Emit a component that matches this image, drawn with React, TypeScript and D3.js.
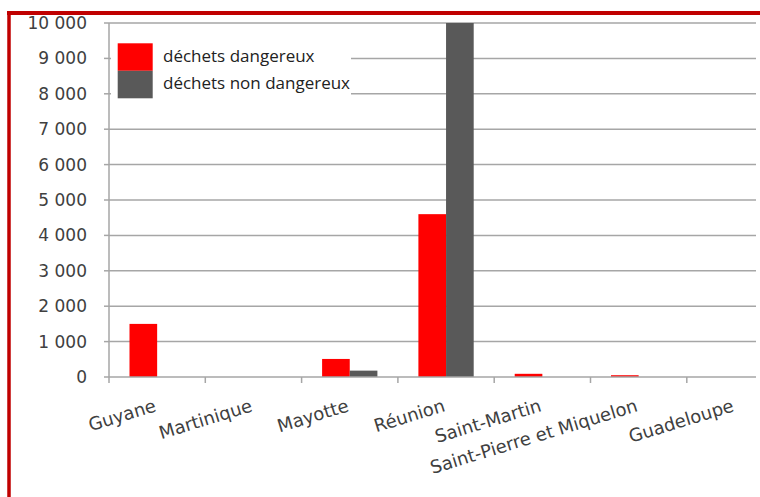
import React, { useEffect, useRef } from "react";
import * as d3 from "d3";

const categories = [
  "Guyane",
  "Martinique",
  "Mayotte",
  "Réunion",
  "Saint-Martin",
  "Saint-Pierre et Miquelon",
  "Guadeloupe",
];
const dangereux = [1500, 0, 510, 4600, 90, 50, 0];
const nonDangereux = [0, 0, 180, 10000, 0, 0, 0];
const seriesNames = ["déchets dangereux", "déchets non dangereux"];
const seriesColors = ["#ff0000", "#595959"];
const yTicks = [0, 1000, 2000, 3000, 4000, 5000, 6000, 7000, 8000, 9000, 10000];

const W = 760;
const H = 497;

function renderChart(svgEl: SVGSVGElement) {
  const svg = d3.select(svgEl);
  svg.selectAll("*").remove();

  const left = 109;
  const gridRight = 756;
  const top = 23;
  const bottom = 377;
  const axisFont = "'DejaVu Sans', Verdana, sans-serif";
  const textColor = "#404040";

  const x0 = d3.scaleBand().domain(categories).range([left, left + 96.3 * categories.length]);
  const gap = 20.5;
  const x1 = d3.scaleBand().domain(seriesNames).range([gap, x0.bandwidth() - gap]);
  const y = d3.scaleLinear().domain([0, 10000]).range([bottom, top]);

  const fmt = (v: number) => d3.format(",")(v).replace(/,/g, " ");

  // gridlines
  svg
    .append("g")
    .selectAll("line")
    .data(yTicks.filter((t) => t > 0))
    .enter()
    .append("line")
    .attr("x1", left)
    .attr("x2", gridRight)
    .attr("y1", (d) => y(d))
    .attr("y2", (d) => y(d))
    .attr("stroke", "#a6a6a6")
    .attr("stroke-width", 1.5);

  // y tick marks + labels
  const yt = svg.append("g");
  yt.selectAll("line")
    .data(yTicks)
    .enter()
    .append("line")
    .attr("x1", left - 5)
    .attr("x2", left)
    .attr("y1", (d) => y(d))
    .attr("y2", (d) => y(d))
    .attr("stroke", "#a6a6a6")
    .attr("stroke-width", 1.5);
  yt.selectAll("text")
    .data(yTicks)
    .enter()
    .append("text")
    .attr("x", 87)
    .attr("y", (d) => y(d) + 6)
    .attr("text-anchor", "end")
    .attr("font-family", axisFont)
    .attr("font-size", 17)
    .attr("fill", textColor)
    .text((d) => fmt(d));

  // bars
  const rows = categories.map((c, i) => ({ cat: c, vals: [dangereux[i], nonDangereux[i]] }));
  const grp = svg
    .append("g")
    .selectAll("g")
    .data(rows)
    .enter()
    .append("g")
    .attr("transform", (d) => "translate(" + x0(d.cat) + ",0)");
  grp
    .selectAll("rect")
    .data((d) => d.vals.map((v, j) => ({ v, j })))
    .enter()
    .append("rect")
    .attr("x", (d) => x1(seriesNames[d.j]))
    .attr("width", x1.bandwidth())
    .attr("y", (d) => y(d.v))
    .attr("height", (d) => bottom - y(d.v))
    .attr("fill", (d) => seriesColors[d.j]);

  // axes lines
  svg
    .append("line")
    .attr("x1", left)
    .attr("x2", left)
    .attr("y1", top)
    .attr("y2", bottom + 6)
    .attr("stroke", "#a6a6a6")
    .attr("stroke-width", 1.5);
  svg
    .append("line")
    .attr("x1", left)
    .attr("x2", gridRight)
    .attr("y1", bottom)
    .attr("y2", bottom)
    .attr("stroke", "#a6a6a6")
    .attr("stroke-width", 1.5);

  // x ticks at band boundaries
  svg
    .append("g")
    .selectAll("line")
    .data(categories.slice(1))
    .enter()
    .append("line")
    .attr("x1", (d) => x0(d))
    .attr("x2", (d) => x0(d))
    .attr("y1", bottom)
    .attr("y2", bottom + 6)
    .attr("stroke", "#a6a6a6")
    .attr("stroke-width", 1.5);

  // category labels, rotated
  svg
    .append("g")
    .selectAll("text")
    .data(categories)
    .enter()
    .append("text")
    .attr("transform", (d) => "translate(" + (x0(d) + x0.bandwidth() / 2) + ",411) rotate(-17)")
    .attr("text-anchor", "end")
    .attr("font-family", axisFont)
    .attr("font-size", 18)
    .attr("fill", textColor)
    .text((d) => d);

  // legend
  const lg = svg.append("g");
  lg.append("rect").attr("x", 111).attr("y", 38).attr("width", 240).attr("height", 64).attr("fill", "#ffffff");
  seriesNames.forEach((name, i) => {
    lg.append("rect")
      .attr("x", 117.7)
      .attr("y", 43.3 + i * 27.5)
      .attr("width", 35)
      .attr("height", 27.5)
      .attr("fill", seriesColors[i]);
    lg.append("text")
      .attr("x", 163)
      .attr("y", 62 + i * 26.5)
      .attr("font-family", "'Open Sans', Lato, sans-serif")
      .attr("font-size", 17)
      .attr("fill", "#222")
      .text(name);
  });

  // red frame
  svg.append("line").attr("x1", 7).attr("x2", W).attr("y1", 13).attr("y2", 13).attr("stroke", "#c00000").attr("stroke-width", 4);
  svg.append("line").attr("x1", 9).attr("x2", 9).attr("y1", 11).attr("y2", H).attr("stroke", "#c00000").attr("stroke-width", 3.5);
}

export default function App() {
  const ref = useRef<SVGSVGElement>(null);
  useEffect(() => {
    if (ref.current) renderChart(ref.current);
  }, []);
  return (
    <svg
      ref={ref}
      width={W}
      height={H}
      style={{ position: "absolute", left: 0, top: 0, background: "#ffffff" }}
    />
  );
}
